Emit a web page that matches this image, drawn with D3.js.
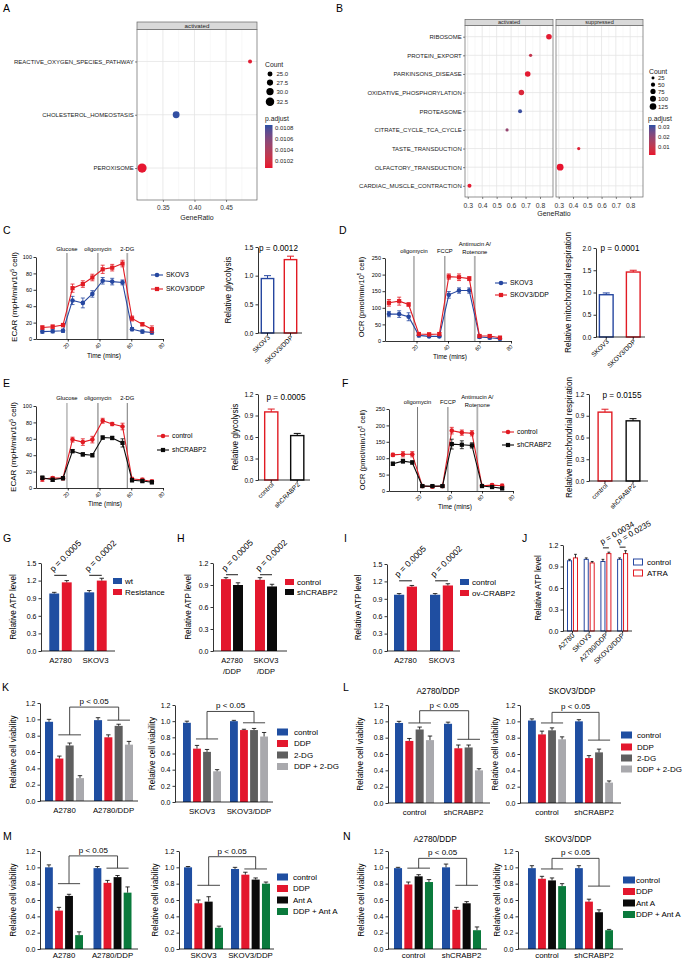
<!DOCTYPE html>
<html><head><meta charset="utf-8">
<script src="https://cdn.jsdelivr.net/npm/d3@7"></script>
<style>body{margin:0;background:#fff}svg{display:block}</style>
</head><body><script>
// ================= DATA =================
// A
const aTerms = ["REACTIVE_OXYGEN_SPECIES_PATHWAY","CHOLESTEROL_HOMEOSTASIS","PEROXISOME"];
const aFacet = ["activated","activated","activated"];
const aRatio = [0.488, 0.371, 0.317];
const aCount = [23, 29, 34];
const aPadj = [0.01010, 0.01085, 0.01007];
const aRatioTicks = [0.35, 0.40, 0.45];
const aCountTicks = [25, 27.5, 30, 32.5];
const aPadjTicks = [0.0108, 0.0106, 0.0104, 0.0102];
// B
const bTerms = ["RIBOSOME","PROTEIN_EXPORT","PARKINSONS_DISEASE","OXIDATIVE_PHOSPHORYLATION","PROTEASOME","CITRATE_CYCLE_TCA_CYCLE","TASTE_TRANSDUCTION","OLFACTORY_TRANSDUCTION","CARDIAC_MUSCLE_CONTRACTION"];
const bFacet = ["activated","activated","activated","activated","activated","activated","suppressed","suppressed","activated"];
const bRatio = [0.862, 0.735, 0.715, 0.671, 0.662, 0.572, 0.44, 0.31, 0.312];
const bCount = [88, 30, 88, 85, 45, 28, 29, 130, 45];
const bPadj = [0.003, 0.010, 0.003, 0.005, 0.031, 0.019, 0.004, 0.002, 0.003];
const bRatioTicks = [0.3, 0.4, 0.5, 0.6, 0.7, 0.8];
const bCountTicks = [25, 50, 75, 100, 125];
const bPadjTicks = [0.03, 0.02, 0.01];
// C-F seahorse
const ecarTime = [4, 10.5, 17, 23, 29.5, 35.5, 42, 48, 54.5, 60.5, 67, 73];
const ocrTime = [2.5, 9, 15, 21.5, 28, 34.5, 40.5, 47, 53.5, 60, 66.5, 73];
const timeTicks = [20, 40, 60, 80];
const ecarInjT = [19.5, 39, 57.5];
const ecarInjLabels = ["Glucose", "oligomycin", "2-DG"];
const ocrInjT = [18.4, 38, 57];
const ocrInjLabels = ["oligomycin", "FCCP", "Antimucin A/|Rotenone"];
const cdSeries = ["SKOV3", "SKOV3/DDP"];
const efSeries = ["control", "shCRABP2"];
const cSkov3 = [9, 9.5, 10, 47, 44, 55, 71, 70, 69, 12, 9, 8];
const cSkov3Err = [2, 2, 2, 5, 6, 4, 4, 4, 3, 2, 2, 2];
const cDdp = [14, 15, 17, 62, 67, 75, 85, 87, 92, 25, 18, 12];
const cDdpErr = [2, 2, 2, 5, 4, 4, 5, 4, 4, 3, 2, 4];
const dSkov3 = [81, 81, 73, 17, 14, 14, 139, 152, 152, 12, 10, 7];
const dSkov3Err = [8, 10, 12, 5, 4, 4, 10, 8, 8, 4, 4, 4];
const dDdp = [115, 120, 110, 21, 20, 21, 194, 192, 188, 15, 15, 10];
const dDdpErr = [10, 12, 5, 4, 4, 4, 8, 10, 6, 4, 4, 4];
const eCtrl = [11, 12, 12, 59, 56, 59, 82, 78, 75, 11, 10, 8];
const eCtrlErr = [3, 2, 2, 3, 4, 4, 3, 2, 4, 2, 2, 2];
const eSh = [12.5, 10, 12, 45, 41, 40, 61.5, 61, 55, 9.5, 8.5, 7];
const eShErr = [2, 2, 2, 2, 2, 2, 2, 2, 5, 2, 2, 2];
const fCtrl = [110, 112, 112, 15, 13, 15, 184, 178, 176, 16, 18, 16];
const fCtrlErr = [5, 8, 8, 4, 3, 3, 10, 8, 8, 3, 4, 5];
const fSh = [83, 91, 87, 15, 15, 15, 143, 141, 139, 15, 12, 8];
const fShErr = [5, 6, 5, 3, 3, 3, 15, 12, 8, 3, 3, 4];
// C-F bars
const cBarVals = [0.95, 1.28], cBarErr = [0.05, 0.06];
const dBarVals = [0.95, 1.46], dBarErr = [0.04, 0.04];
const eBarVals = [0.95, 0.62], eBarErr = [0.04, 0.03];
const fBarVals = [0.95, 0.83], fBarErr = [0.04, 0.03];
const cP = "p = 0.0012", dP = "p = 0.0001", eP = "p = 0.0005", fP = "p = 0.0155";
// G-J
const gGroups = ["A2780", "SKOV3"], gSeries = ["wt", "Resistance"];
const gVals = [[0.98, 1.17], [1.0, 1.2]], gErr = [[0.02, 0.03], [0.03, 0.04]];
const gP = ["p = 0.0005", "p = 0.0002"];
const hGroups = ["A2780/DDP", "SKOV3/DDP"], hSeries = ["control", "shCRABP2"];
const hVals = [[0.98, 0.9], [0.97, 0.88]], hErr = [[0.02, 0.03], [0.03, 0.03]];
const hP = ["p = 0.0005", "p = 0.0002"];
const iGroups = ["A2780", "SKOV3"], iSeries = ["control", "ov-CRABP2"];
const iVals = [[0.97, 1.11], [0.97, 1.13]], iErr = [[0.02, 0.02], [0.02, 0.03]];
const iP = ["p = 0.0005", "p = 0.0002"];
const jGroups = ["A2780", "SKOV3", "A2780/DDP", "SKOV3/DDP"], jSeries = ["control", "ATRA"];
const jVals = [[0.98, 1.02], [1.0, 0.95], [0.97, 1.08], [1.0, 1.08]];
const jErr = [[0.02, 0.05], [0.02, 0.02], [0.03, 0.02], [0.02, 0.04]];
const jP = ["p = 0.0034", "p = 0.0235"];
// K-N
const dgSeries = ["control", "DDP", "2-DG", "DDP + 2-DG"];
const aaSeries = ["control", "DDP", "Ant A", "DDP + Ant A"];
const pBracket = "p < 0.05";
const kLGroups = ["A2780", "A2780/DDP"];
const kLVals = [[0.97, 0.52, 0.68, 0.28], [0.99, 0.78, 0.92, 0.69]];
const kLErr = [[0.03, 0.03, 0.03, 0.03], [0.03, 0.03, 0.02, 0.04]];
const kRGroups = ["SKOV3", "SKOV3/DDP"];
const kRVals = [[0.98, 0.66, 0.62, 0.38], [1.0, 0.89, 0.89, 0.81]];
const kRErr = [[0.02, 0.04, 0.03, 0.02], [0.01, 0.01, 0.02, 0.05]];
const lnGroups = ["control", "shCRABP2"];
const lTitles = ["A2780/DDP", "SKOV3/DDP"];
const lLVals = [[0.98, 0.76, 0.90, 0.77], [0.97, 0.67, 0.68, 0.40]];
const lLErr = [[0.02, 0.03, 0.03, 0.05], [0.02, 0.04, 0.03, 0.02]];
const lRVals = [[1.01, 0.84, 0.89, 0.78], [1.0, 0.55, 0.62, 0.25]];
const lRErr = [[0.02, 0.04, 0.03, 0.03], [0.02, 0.03, 0.04, 0.02]];
const mLVals = [[1.0, 0.47, 0.65, 0.17], [0.99, 0.81, 0.88, 0.69]];
const mLErr = [[0.03, 0.04, 0.02, 0.04], [0.02, 0.03, 0.02, 0.07]];
const mRVals = [[1.0, 0.56, 0.58, 0.26], [0.98, 0.91, 0.85, 0.80]];
const mRErr = [[0.01, 0.04, 0.06, 0.02], [0.02, 0.03, 0.02, 0.02]];
const nLVals = [[0.99, 0.79, 0.89, 0.82], [1.0, 0.48, 0.56, 0.23]];
const nLErr = [[0.01, 0.03, 0.02, 0.03], [0.04, 0.03, 0.02, 0.04]];
const nRVals = [[0.99, 0.86, 0.84, 0.77], [0.99, 0.58, 0.45, 0.23]];
const nRErr = [[0.03, 0.03, 0.03, 0.03], [0.03, 0.03, 0.03, 0.01]];

// ================= DRAWING =================
const FONT = "'Liberation Sans', Arial, Helvetica, sans-serif";
const BLUE = "#1f4ea1", RED = "#e3172d", DGRAY = "#5f5f5f", LGRAY = "#a9a9ad", GREEN = "#0a7a3c", BLACK = "#0a0a0a";
const LBLUE = "#2647a0", LRED = "#e11b23";
const svg = d3.select("body").append("svg").attr("width", 685).attr("height", 961).attr("font-family", FONT);

function txt(x, y, s, o = {}) {
  const t = svg.append("text").attr("x", x).attr("y", y).text(s)
    .attr("font-size", o.fs || 8).attr("fill", o.fill || "#000")
    .attr("text-anchor", o.anchor || "start");
  if (o.rot) t.attr("transform", `rotate(${o.rot},${x},${y})`);
  return t;
}
function ln(x1, y1, x2, y2, stroke = "#000", w = 0.8) {
  return svg.append("line").attr("x1", x1).attr("y1", y1).attr("x2", x2).attr("y2", y2)
    .attr("stroke", stroke).attr("stroke-width", w);
}
// style a d3 axis and re-place its tick labels as plain, absolutely positioned texts
function styleAxis(g, fs, tc) {
  const fill = tc || "#000";
  g.attr("font-family", FONT).attr("font-size", fs);
  g.selectAll("path.domain").attr("stroke", "#000").attr("stroke-width", 0.8);
  g.selectAll(".tick line").attr("stroke", "#000").attr("stroke-width", 0.8);
  const anchor = g.attr("text-anchor");
  g.selectAll(".tick text").each(function () {
    const m = this.getCTM();
    const x = +this.getAttribute("x") || 0, y = +this.getAttribute("y") || 0;
    const dyA = this.getAttribute("dy") || "0";
    const dy = dyA.indexOf("em") >= 0 ? parseFloat(dyA) * fs : (parseFloat(dyA) || 0);
    const px = m.a * x + m.c * y + m.e, py = m.b * x + m.d * y + m.f + dy;
    txt(px, py, this.textContent, {fs: fs, anchor: anchor, fill: fill});
    this.remove();
  });
  return g;
}
function marker(g, x, y, shape, color, r) {
  if (shape === "square") g.append("rect").attr("x", x - r).attr("y", y - r).attr("width", 2 * r).attr("height", 2 * r).attr("fill", color);
  else g.append("circle").attr("cx", x).attr("cy", y).attr("r", r).attr("fill", color);
}

// panel letters
[["A",3,12],["B",336,12],["C",3,234],["D",339,234],["E",3,387],["F",342,387],["G",3,542],["H",177,542],["I",344,542],["J",522,542],["K",2,691],["L",343,691],["M",3,840],["N",343,840]]
  .forEach(d => txt(d[1], d[2], d[0], {fs: 10.5}));

// ---------- dot plots (A, B) ----------
function dotPanel(c) {
  const y = d3.scalePoint().domain(c.terms).range([c.top, c.bottom]).padding(0.6);
  c.facets.forEach(f => {
    const x = d3.scaleLinear().domain(c.domain).range([f.x0, f.x1]);
    const g = svg.append("g");
    g.append("rect").attr("x", f.x0).attr("y", c.top).attr("width", f.x1 - f.x0).attr("height", c.bottom - c.top).attr("fill", "#fff");
    c.minor.forEach(v => g.append("line").attr("x1", x(v)).attr("x2", x(v)).attr("y1", c.top).attr("y2", c.bottom).attr("stroke", "#f0f0f0").attr("stroke-width", 0.5));
    c.ticks.forEach(v => g.append("line").attr("x1", x(v)).attr("x2", x(v)).attr("y1", c.top).attr("y2", c.bottom).attr("stroke", "#e4e4e4").attr("stroke-width", 0.8));
    c.terms.forEach(t => g.append("line").attr("x1", f.x0).attr("x2", f.x1).attr("y1", y(t)).attr("y2", y(t)).attr("stroke", "#e4e4e4").attr("stroke-width", 0.8));
    const idx = c.terms.map((t, i) => i).filter(i => c.facetOf[i] === f.name);
    g.selectAll("circle.pt").data(idx).join("circle").attr("class", "pt")
      .attr("cx", i => x(c.ratio[i])).attr("cy", i => y(c.terms[i]))
      .attr("r", i => c.r(c.count[i])).attr("fill", i => c.color(c.padj[i]));
    g.append("rect").attr("x", f.x0).attr("y", c.top).attr("width", f.x1 - f.x0).attr("height", c.bottom - c.top)
      .attr("fill", "none").attr("stroke", "#666").attr("stroke-width", 0.7);
    g.append("rect").attr("x", f.x0).attr("y", c.top - c.stripH).attr("width", f.x1 - f.x0).attr("height", c.stripH)
      .attr("fill", "#d9d9d9").attr("stroke", "#666").attr("stroke-width", 0.7);
    txt((f.x0 + f.x1) / 2, c.top - c.stripH / 2 + c.stripFs * 0.36, f.name, {fs: c.stripFs, anchor: "middle", fill: "#1a1a1a"});
    const ax = svg.append("g").attr("transform", `translate(0,${c.bottom})`)
      .call(d3.axisBottom(x).tickValues(c.ticks).tickFormat(c.fmt).tickSize(2).tickSizeOuter(0).tickPadding(c.tickPad));
    ax.select(".domain").remove();
    styleAxis(ax, c.tickFs, "#333");
    ax.selectAll(".tick line").attr("stroke", "#333").attr("stroke-width", 0.6);
  });
  const ay = svg.append("g").attr("transform", `translate(${c.facets[0].x0},0)`)
    .call(d3.axisLeft(y).tickSize(2).tickPadding(1.2));
  ay.select(".domain").remove();
  styleAxis(ay, c.labelFs, "#222");
  ay.selectAll(".tick line").attr("stroke", "#333").attr("stroke-width", 0.6);
}
function colorBar(id, x, y0, y1, w, colorScale, dom, ticks, fmt, fs) {
  const grad = svg.append("defs").append("linearGradient").attr("id", id).attr("x1", 0).attr("y1", 0).attr("x2", 0).attr("y2", 1);
  d3.range(0, 1.0001, 0.1).forEach(t => grad.append("stop").attr("offset", t).attr("stop-color", colorScale(dom[0] + (dom[1] - dom[0]) * t)));
  svg.append("rect").attr("x", x).attr("y", y0).attr("width", w).attr("height", y1 - y0).attr("fill", `url(#${id})`);
  const ly = d3.scaleLinear().domain(dom).range([y0, y1]);
  ticks.forEach(v => txt(x + w + 2.5, ly(v) + fs * 0.36, fmt(v), {fs: fs, fill: "#222"}));
}

// A
const aDom = [0.01086, 0.01006];
const aColor = d3.scaleLinear().domain([0.01006, 0.01086]).range(["#e8132e", "#2b4fa3"]).interpolate(d3.interpolateLab);
const aR = d3.scaleLinear().domain([23, 34]).range([2, 4.6]);
dotPanel({terms: aTerms, facetOf: aFacet, ratio: aRatio, count: aCount, padj: aPadj, r: aR, color: aColor,
  domain: [0.309, 0.499], ticks: aRatioTicks, minor: [0.325, 0.375, 0.425, 0.475], fmt: d3.format(".2f"),
  facets: [{name: "activated", x0: 137, x1: 257}], top: 29.5, bottom: 200, stripH: 7.5, stripFs: 6.2,
  labelFs: 6, tickFs: 6.5, tickPad: 3.8});
txt(197, 219.5, "GeneRatio", {fs: 7, anchor: "middle", fill: "#222"});
txt(265, 67, "Count", {fs: 6.8, fill: "#222"});
[74, 82.6, 91.6, 101.8].forEach((yy, k) => {
  svg.append("circle").attr("cx", 270).attr("cy", yy).attr("r", aR(aCountTicks[k])).attr("fill", "#000");
  txt(276.5, yy + 2.2, d3.format(".1f")(aCountTicks[k]), {fs: 6, fill: "#222"});
});
txt(265, 121, "p.adjust", {fs: 6.8, fill: "#222"});
colorBar("gradA", 265, 125, 168, 7.5, aColor, aDom, aPadjTicks, d3.format(".4f"), 6);

// B
const bDom = [0.032, 0.002];
const bColor = d3.scaleLinear().domain([0.002, 0.032]).range(["#e8132e", "#2b4fa3"]).interpolate(d3.interpolateLab);
const bR = d3.scaleSqrt().domain([0, 130]).range([0, 3.4]);
dotPanel({terms: bTerms, facetOf: bFacet, ratio: bRatio, count: bCount, padj: bPadj, r: bR, color: bColor,
  domain: [0.281, 0.89], ticks: bRatioTicks, minor: [0.35, 0.45, 0.55, 0.65, 0.75, 0.85], fmt: d3.format(".1f"),
  facets: [{name: "activated", x0: 465, x1: 553}, {name: "suppressed", x0: 556, x1: 643}],
  top: 25.5, bottom: 197, stripH: 6, stripFs: 5.5, labelFs: 6, tickFs: 6.8, tickPad: 3.8});
txt(554, 215.5, "GeneRatio", {fs: 7, anchor: "middle", fill: "#222"});
txt(649, 74, "Count", {fs: 6.8, fill: "#222"});
[78, 84.7, 91.4, 98.7, 106.5].forEach((yy, k) => {
  svg.append("circle").attr("cx", 653).attr("cy", yy).attr("r", bR(bCountTicks[k])).attr("fill", "#000");
  txt(658, yy + 2.1, String(bCountTicks[k]), {fs: 6, fill: "#222"});
});
txt(648, 121, "p.adjust", {fs: 6.8, fill: "#222"});
colorBar("gradB", 649, 125, 155, 6.5, bColor, bDom, bPadjTicks, d3.format(".2f"), 6);

// ---------- seahorse line charts ----------
function seahorse(c) {
  const x = d3.scaleLinear().domain([0, 80]).range([c.x0, c.x1]);
  const y = d3.scaleLinear().domain([0, c.ymax]).range([c.y0, c.y1]);
  c.injT.forEach((t, k) => {
    const st = c.injStyle[k];
    ln(x(t), c.injTop, x(t), c.y0, st.color, st.w);
    c.injLabels[k].split("|").forEach((s, m) => txt(x(t), st.ly + m * 8, s, {fs: 5.8, anchor: "middle"}));
  });
  const ay = svg.append("g").attr("transform", `translate(${c.x0},0)`)
    .call(d3.axisLeft(y).tickValues(c.yTicks).tickSize(2.5).tickSizeOuter(0).tickPadding(1.5));
  styleAxis(ay, 5.5);
  const ax = svg.append("g").attr("transform", `translate(0,${c.y0})`)
    .call(d3.axisBottom(x).tickValues(timeTicks).tickFormat("").tickSize(2.5).tickSizeOuter(0));
  ax.selectAll(".tick text").remove();
  styleAxis(ax, 5.5);
  timeTicks.forEach(t => txt(x(t) + 2, c.y0 + 6, String(t), {fs: 5.5, anchor: "end", rot: -45}));
  const g = svg.append("g");
  c.series.forEach(s => {
    const pts = c.time.map((t, i) => ({t, v: s.values[i], e: s.err[i]}));
    g.append("path").datum(pts).attr("d", d3.line().x(d => x(d.t)).y(d => y(d.v)))
      .attr("fill", "none").attr("stroke", s.color).attr("stroke-width", 1.1);
    pts.forEach(d => {
      g.append("line").attr("x1", x(d.t)).attr("x2", x(d.t)).attr("y1", y(d.v - d.e)).attr("y2", y(d.v + d.e)).attr("stroke", s.color).attr("stroke-width", 0.8);
      [d.v - d.e, d.v + d.e].forEach(vv => g.append("line").attr("x1", x(d.t) - 2).attr("x2", x(d.t) + 2).attr("y1", y(vv)).attr("y2", y(vv)).attr("stroke", s.color).attr("stroke-width", 0.8));
    });
    pts.forEach(d => marker(g, x(d.t), y(d.v), s.shape, s.color, s.shape === "square" ? 2.1 : 2.3));
  });
  c.series.forEach((s, k) => {
    const ly = c.legY[k];
    ln(c.legX, ly, c.legX + 12, ly, s.color, 1.1);
    marker(g, c.legX + 6, ly, s.shape, s.color, s.shape === "square" ? 2.1 : 2.3);
    txt(c.legX + 15, ly + 2.4, s.name, {fs: 6.8});
  });
  const tt = svg.append("text").attr("x", c.tx).attr("y", c.ty).attr("transform", `rotate(-90,${c.tx},${c.ty})`)
    .attr("text-anchor", "middle").attr("font-size", c.tfs);
  tt.append("tspan").text(c.title[0]);
  tt.append("tspan").text("5").attr("font-size", c.tfs * 0.6).attr("dy", -c.tfs * 0.4);
  tt.append("tspan").text(c.title[1]).attr("dy", c.tfs * 0.4);
  txt(c.timeX, c.timeY, "Time (mins)", {fs: 6.5, anchor: "middle"});
}
const stDark = {color: "#555", w: 0.8}, stLight = {color: "#b0b0b0", w: 1.8}, stMid = {color: "#9a9a9a", w: 1.1};
seahorse({time: ecarTime, x0: 36, x1: 163, y0: 339, y1: 257, ymax: 100, yTicks: [0, 20, 40, 60, 80, 100],
  injT: ecarInjT, injLabels: ecarInjLabels, injTop: 253,
  injStyle: [{...stDark, ly: 251}, {...stDark, ly: 251}, {...stLight, ly: 251}],
  series: [{name: cdSeries[0], values: cSkov3, err: cSkov3Err, color: LBLUE, shape: "circle"},
           {name: cdSeries[1], values: cDdp, err: cDdpErr, color: LRED, shape: "square"}],
  legX: 151, legY: [275, 289], tx: 17, ty: 297, tfs: 8, title: ["ECAR (mpH/min/10", " cell)"], timeX: 104, timeY: 357.5});
seahorse({time: ocrTime, x0: 385, x1: 511, y0: 341, y1: 258, ymax: 250, yTicks: [0, 50, 100, 150, 200, 250],
  injT: ocrInjT, injLabels: ocrInjLabels, injTop: 256,
  injStyle: [{...stDark, ly: 252.5}, {...stDark, ly: 252.5}, {...stLight, ly: 246}],
  series: [{name: cdSeries[0], values: dSkov3, err: dSkov3Err, color: LBLUE, shape: "circle"},
           {name: cdSeries[1], values: dDdp, err: dDdpErr, color: LRED, shape: "square"}],
  legX: 495, legY: [283, 295], tx: 364, ty: 297, tfs: 7.5, title: ["OCR (pmol/min/10", " cell)"], timeX: 450, timeY: 359});
seahorse({time: ecarTime, x0: 36, x1: 163, y0: 488, y1: 406, ymax: 100, yTicks: [0, 20, 40, 60, 80, 100],
  injT: ecarInjT, injLabels: ecarInjLabels, injTop: 403,
  injStyle: [{...stMid, ly: 400}, {...stLight, ly: 400}, {...stDark, ly: 400}],
  series: [{name: efSeries[0], values: eCtrl, err: eCtrlErr, color: LRED, shape: "circle"},
           {name: efSeries[1], values: eSh, err: eShErr, color: BLACK, shape: "square"}],
  legX: 157, legY: [436, 450], tx: 16, ty: 447, tfs: 8, title: ["ECAR (mpH/min/10", " cell)"], timeX: 105, timeY: 506});
seahorse({time: ocrTime, x0: 389, x1: 513, y0: 491, y1: 409, ymax: 250, yTicks: [0, 50, 100, 150, 200, 250],
  injT: ocrInjT, injLabels: ocrInjLabels, injTop: 407,
  injStyle: [{...stDark, ly: 404}, {...stDark, ly: 404}, {...stLight, ly: 399}],
  series: [{name: efSeries[0], values: fCtrl, err: fCtrlErr, color: LRED, shape: "circle"},
           {name: efSeries[1], values: fSh, err: fShErr, color: BLACK, shape: "square"}],
  legX: 502, legY: [432, 445], tx: 365, ty: 450, tfs: 7.5, title: ["OCR (pmol/min/10", " cell)"], timeX: 455, timeY: 509});

// ---------- outline bars C-F ----------
function simpleBars(c) {
  const y = d3.scaleLinear().domain(c.yDomain).range([c.y0, c.y1]);
  const x = d3.scaleBand().domain(c.cats).range(c.xr).paddingInner(c.pi).paddingOuter(c.po);
  const bw = x.bandwidth();
  const g = svg.append("g");
  c.cats.forEach((cat, i) => {
    const v = c.values[i], e = c.errs[i], cx = x(cat) + bw / 2;
    g.append("rect").attr("x", x(cat) + 0.7).attr("y", y(v)).attr("width", bw - 1.4).attr("height", c.y0 - y(v))
      .attr("fill", "#fff").attr("stroke", c.colors[i]).attr("stroke-width", 1.4);
    g.append("line").attr("x1", cx).attr("x2", cx).attr("y1", y(v)).attr("y2", y(v + e)).attr("stroke", c.colors[i]).attr("stroke-width", 1);
    g.append("line").attr("x1", cx - 3.5).attr("x2", cx + 3.5).attr("y1", y(v + e)).attr("y2", y(v + e)).attr("stroke", c.colors[i]).attr("stroke-width", 1);
  });
  const ay = svg.append("g").attr("transform", `translate(${c.axisX},0)`)
    .call(d3.axisLeft(y).tickValues(c.yTicks).tickFormat(d3.format(".1f")).tickSize(2.5).tickSizeOuter(0).tickPadding(2));
  styleAxis(ay, 6.5);
  ln(c.axisX, c.y0, c.xEnd, c.y0);
  c.cats.forEach(cat => {
    const cx = x(cat) + bw / 2;
    ln(cx, c.y0, cx, c.y0 + 2.5);
    txt(cx + 3, c.y0 + 5, cat, {fs: 6.5, anchor: "end", rot: -45});
  });
  txt(c.p[1], c.p[2], c.p[0], {fs: 8.2, anchor: "middle"});
  txt(c.tx, (c.y0 + c.y1) / 2, c.title, {fs: 8.2, anchor: "middle", rot: -90});
}
simpleBars({cats: cdSeries, values: cBarVals, errs: cBarErr, colors: [LBLUE, LRED], yDomain: [0, 1.5], yTicks: [0, 0.5, 1, 1.5],
  y0: 333, y1: 247, xr: [256, 302], pi: 0.4, po: 0.2, axisX: 258, xEnd: 302, p: [cP, 278.5, 251], tx: 231, title: "Relative glycolysis"});
simpleBars({cats: cdSeries, values: dBarVals, errs: dBarErr, colors: [LBLUE, LRED], yDomain: [0, 2], yTicks: [0, 0.5, 1, 1.5, 2],
  y0: 337, y1: 248, xr: [596, 643.5], pi: 0.44, po: 0.1, axisX: 596, xEnd: 645, p: [dP, 620, 251], tx: 571, title: "Relative mitochondrial respiration"});
simpleBars({cats: efSeries, values: eBarVals, errs: eBarErr, colors: [LRED, BLACK], yDomain: [0, 1.2], yTicks: [0, 0.3, 0.6, 0.9, 1.2],
  y0: 480, y1: 394, xr: [258, 310.5], pi: 0.44, po: 0.23, axisX: 258, xEnd: 310, p: [eP, 286, 400], tx: 238, title: "Relative glycolysis"});
simpleBars({cats: efSeries, values: fBarVals, errs: fBarErr, colors: [LRED, BLACK], yDomain: [0, 1.2], yTicks: [0, 0.3, 0.6, 0.9, 1.2],
  y0: 481, y1: 394, xr: [589, 649], pi: 0.46, po: 0.3, axisX: 589, xEnd: 648, p: [fP, 622, 398], tx: 572, title: "Relative mitochondrial respiration"});

// ---------- grouped bars G-N ----------
function groupedBars(c) {
  const y = d3.scaleLinear().domain(c.yDomain).range([c.y0, c.y1]);
  const n = c.groups.length;
  const gx = d3.scaleBand().domain(c.groups).range([c.first, c.first + (n - 1) * c.step + c.gw])
    .paddingInner((c.step - c.gw) / c.step).paddingOuter(0);
  const sx = d3.scaleBand().domain(c.series).range([0, c.gw]).paddingInner(c.ip);
  const bw = sx.bandwidth();
  const cells = [];
  c.groups.forEach((gn, i) => c.series.forEach((sn, j) => cells.push({i, j, g: gn, s: sn, v: c.values[i][j], e: c.errs[i][j]})));
  const bx = d => gx(d.g) + sx(d.s);
  const cxOf = (i, j) => gx(c.groups[i]) + sx(c.series[j]) + bw / 2;
  svg.append("g").selectAll("rect").data(cells).join("rect")
    .attr("x", d => c.outline ? bx(d) + 0.5 : bx(d)).attr("y", d => y(d.v))
    .attr("width", c.outline ? bw - 1 : bw).attr("height", d => c.y0 - y(d.v))
    .attr("fill", d => c.outline ? "#fff" : c.colors[d.j])
    .attr("stroke", d => c.outline ? c.colors[d.j] : "none").attr("stroke-width", 1);
  const cap = Math.min(bw * 0.55, 4.5);
  const eg = svg.append("g").attr("stroke", "#000").attr("stroke-width", 0.8);
  cells.forEach(d => {
    const cx = bx(d) + bw / 2;
    eg.append("line").attr("x1", cx).attr("x2", cx).attr("y1", y(d.v)).attr("y2", y(d.v + d.e));
    eg.append("line").attr("x1", cx - cap / 2).attr("x2", cx + cap / 2).attr("y1", y(d.v + d.e)).attr("y2", y(d.v + d.e));
  });
  const ay = svg.append("g").attr("transform", `translate(${c.axisX},0)`)
    .call(d3.axisLeft(y).tickValues(c.yTicks).tickFormat(d3.format(".1f")).tickSize(2.5).tickSizeOuter(0).tickPadding(2));
  styleAxis(ay, 7);
  ln(c.axisX, c.y0, c.xEnd, c.y0);
  const lo = c.labOff || 12;
  c.groups.forEach((gn, i) => {
    const cx = gx(gn) + c.gw / 2;
    if (c.xMode === "rot") {
      ln(cx, c.y0, cx, c.y0 + 2.5);
      txt(cx + 2.5, c.y0 + 5, gn, {fs: 7, anchor: "end", rot: -45});
    } else if (c.xMode === "split") {
      const parts = gn.split("/");
      txt(cx, c.y0 + lo, parts[0], {fs: 7.5, anchor: "middle"});
      txt(cx, c.y0 + lo + 11, "/" + parts[1], {fs: 7.5, anchor: "middle"});
    } else {
      txt(cx, c.y0 + lo, gn, {fs: 7.8, anchor: "middle"});
    }
  });
  if (c.leg) {
    c.series.forEach((sn, k) => {
      const ly = c.leg.ys[k];
      svg.append("rect").attr("x", c.leg.x + (c.outline ? 0.5 : 0)).attr("y", ly - c.leg.sh / 2)
        .attr("width", c.leg.sw - (c.outline ? 1 : 0)).attr("height", c.leg.sh)
        .attr("fill", c.outline ? "#fff" : c.colors[k]).attr("stroke", c.outline ? c.colors[k] : "none").attr("stroke-width", 1);
      txt(c.leg.tx, ly + 2.8, sn, {fs: 8});
    });
  }
  if (c.sig) {
    c.sig.groups.forEach((gi, k) => {
      const x1 = cxOf(gi, 0), x2 = cxOf(gi, 1), yy = y(c.sig.level[k]);
      ln(x1, yy, x2, yy, "#000", 0.9);
      txt(x1 - 1, yy - 3, c.sig.labels[k], {fs: c.sig.fs, rot: c.sig.rot});
    });
  }
  if (c.bracket) {
    const mids = [];
    c.groups.forEach((gn, i) => {
      const l = cxOf(i, 1) - 1, r = cxOf(i, 3) + 1, m = (l + r) / 2, ys = y(c.bracket.subs[i]);
      ln(l, ys, r, ys, "#333", 0.9);
      ln(m, ys, m, y(c.bracket.top), "#333", 0.9);
      mids.push(m);
    });
    ln(mids[0], y(c.bracket.top), mids[1], y(c.bracket.top), "#333", 0.9);
    txt((mids[0] + mids[1]) / 2, y(c.bracket.top) - 3, pBracket, {fs: 8, anchor: "middle"});
  }
  if (c.title) txt(c.title[1], c.title[2], c.title[0], {fs: 8.2, anchor: "middle"});
  txt(c.tx, (c.y0 + c.y1) / 2, c.yTitle, {fs: 8.2, anchor: "middle", rot: -90});
}
const t03 = [0, 0.3, 0.6, 0.9, 1.2], t03b = [0, 0.3, 0.6, 0.9, 1.2, 1.5], t02 = [0, 0.2, 0.4, 0.6, 0.8, 1.0, 1.2];
const atp = "Relative ATP level", via = "Relative cell viability";
// G
groupedBars({groups: gGroups, series: gSeries, values: gVals, errs: gErr, colors: [BLUE, RED], yDomain: [0, 1.5], yTicks: t03b,
  y0: 651, y1: 563, axisX: 41, first: 49.3, gw: 22.4, step: 35, ip: 0.21, xEnd: 115, xMode: "plain",
  leg: {x: 113, ys: [581, 592], sw: 9, sh: 6, tx: 125}, sig: {groups: [0, 1], level: [1.29, 1.29], labels: gP, fs: 8.5, rot: -45},
  tx: 16, yTitle: atp});
// H
groupedBars({groups: hGroups, series: hSeries, values: hVals, errs: hErr, colors: [RED, BLACK], yDomain: [0, 1.2], yTicks: t03,
  y0: 651, y1: 563, axisX: 213, first: 221, gw: 22, step: 34, ip: 0.17, xEnd: 287, xMode: "split",
  leg: {x: 285, ys: [582, 592], sw: 9, sh: 6, tx: 297}, sig: {groups: [0, 1], level: [1.04, 1.04], labels: hP, fs: 8.5, rot: -45},
  tx: 191, yTitle: atp});
// I
groupedBars({groups: iGroups, series: iSeries, values: iVals, errs: iErr, colors: [BLUE, RED], yDomain: [0, 1.5], yTicks: t03b,
  y0: 651, y1: 564, axisX: 387, first: 394, gw: 23, step: 36, ip: 0.2, xEnd: 460, xMode: "plain",
  leg: {x: 460, ys: [582, 593], sw: 9, sh: 6, tx: 472}, sig: {groups: [0, 1], level: [1.21, 1.21], labels: iP, fs: 8.5, rot: -45},
  tx: 361, yTitle: atp});
// J
groupedBars({groups: jGroups, series: jSeries, values: jVals, errs: jErr, colors: [LBLUE, LRED], outline: true, yDomain: [0, 1.2], yTicks: t03,
  y0: 631, y1: 545, axisX: 563, first: 567, gw: 11, step: 16.7, ip: 0.15, xEnd: 632, xMode: "rot",
  leg: {x: 633, ys: [562, 573], sw: 10, sh: 6, tx: 647}, sig: {groups: [2, 3], level: [1.16, 1.17], labels: jP, fs: 8, rot: -30},
  tx: 541, yTitle: atp});
// K
groupedBars({groups: kLGroups, series: dgSeries, values: kLVals, errs: kLErr, colors: [BLUE, RED, DGRAY, LGRAY], yDomain: [0, 1.2], yTicks: t02,
  y0: 801, y1: 703, axisX: 40, first: 45, gw: 39, step: 49, ip: 0.22, xEnd: 138, xMode: "plain",
  bracket: {top: 1.15, subs: [0.81, 0.99]}, tx: 16, yTitle: via});
groupedBars({groups: kRGroups, series: dgSeries, values: kRVals, errs: kRErr, colors: [BLUE, RED, DGRAY, LGRAY], yDomain: [0, 1.2], yTicks: t02,
  y0: 802, y1: 705, axisX: 175, first: 183, gw: 38, step: 47, ip: 0.22, xEnd: 273, xMode: "plain",
  leg: {x: 277, ys: [732, 743.5, 755, 766.5], sw: 11, sh: 7, tx: 294}, bracket: {top: 1.12, subs: [0.78, 0.98]}, tx: 155, yTitle: via});
// L
groupedBars({groups: lnGroups, series: dgSeries, values: lLVals, errs: lLErr, colors: [BLUE, RED, DGRAY, LGRAY], yDomain: [0, 1.2], yTicks: t02,
  y0: 803, y1: 705, axisX: 388, first: 395, gw: 39, step: 49, ip: 0.22, xEnd: 490, xMode: "plain",
  bracket: {top: 1.13, subs: [0.98, 0.78]}, title: [lTitles[0], 438, 694], tx: 363, yTitle: via});
groupedBars({groups: lnGroups, series: dgSeries, values: lRVals, errs: lRErr, colors: [BLUE, RED, DGRAY, LGRAY], yDomain: [0, 1.2], yTicks: t02,
  y0: 803, y1: 705, axisX: 520, first: 528, gw: 38, step: 47, ip: 0.22, xEnd: 621, xMode: "plain",
  leg: {x: 621, ys: [735, 747, 758, 769], sw: 11, sh: 7, tx: 637}, bracket: {top: 1.11, subs: [0.98, 0.77]}, title: [lTitles[1], 572, 694],
  tx: 498, yTitle: via});
// M
groupedBars({groups: kLGroups, series: aaSeries, values: mLVals, errs: mLErr, colors: [BLUE, RED, BLACK, GREEN], yDomain: [0, 1.2], yTicks: t02,
  y0: 949, y1: 851, axisX: 40, first: 45, gw: 38, step: 48.5, ip: 0.22, xEnd: 138, xMode: "plain", labOff: 9.3,
  bracket: {top: 1.14, subs: [0.80, 0.99]}, tx: 16, yTitle: via});
groupedBars({groups: kRGroups, series: aaSeries, values: mRVals, errs: mRErr, colors: [BLUE, RED, BLACK, GREEN], yDomain: [0, 1.2], yTicks: t02,
  y0: 949, y1: 851, axisX: 179, first: 184, gw: 39, step: 47, ip: 0.22, xEnd: 274, xMode: "plain", labOff: 9.3,
  leg: {x: 277, ys: [877, 888.5, 900, 911.5], sw: 11, sh: 7, tx: 293}, bracket: {top: 1.13, subs: [0.78, 0.98]}, tx: 158, yTitle: via});
// N
groupedBars({groups: lnGroups, series: aaSeries, values: nLVals, errs: nLErr, colors: [BLUE, RED, BLACK, GREEN], yDomain: [0, 1.2], yTicks: t02,
  y0: 949, y1: 851, axisX: 388, first: 394, gw: 39, step: 48, ip: 0.22, xEnd: 487, xMode: "plain", labOff: 9.3,
  bracket: {top: 1.11, subs: [0.99, 0.78]}, title: [lTitles[0], 435, 842], tx: 364, yTitle: via});
groupedBars({groups: lnGroups, series: aaSeries, values: nRVals, errs: nRErr, colors: [BLUE, RED, BLACK, GREEN], yDomain: [0, 1.2], yTicks: t02,
  y0: 949, y1: 851, axisX: 518, first: 528, gw: 38, step: 47, ip: 0.22, xEnd: 623, xMode: "plain", labOff: 9.3,
  leg: {x: 623, ys: [880, 891.5, 903, 914.5], sw: 12, sh: 7, tx: 636}, bracket: {top: 1.11, subs: [0.98, 0.77]}, title: [lTitles[1], 568, 842],
  tx: 500, yTitle: via});
</script></body></html>
